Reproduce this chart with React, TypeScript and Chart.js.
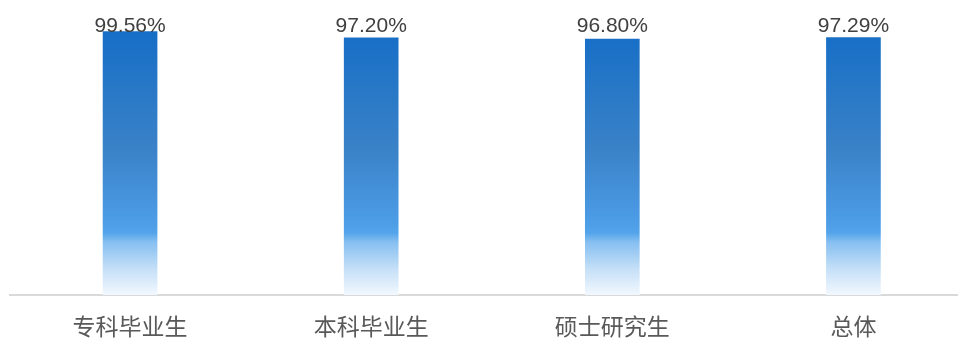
import React, { useEffect, useRef } from "react";
import { Chart, registerables } from "chart.js";

Chart.register(...registerables);

const categories = ["专科毕业生", "本科毕业生", "硕士研究生", "总体"];
const values = [99.56, 97.2, 96.8, 97.29];
const valueLabels = ["99.56%", "97.20%", "96.80%", "97.29%"];

const labelPlugin = {
  id: "valueLabels",
  afterDatasetsDraw(chart: any) {
    const { ctx } = chart;
    const meta = chart.getDatasetMeta(0);
    const yScale = chart.scales.y;
    const yTop = yScale.getPixelForValue(100);
    ctx.save();
    ctx.font = '21px "Liberation Sans", Arial, sans-serif';
    ctx.fillStyle = "#404040";
    ctx.textAlign = "center";
    ctx.textBaseline = "alphabetic";
    meta.data.forEach((bar: any, i: number) => {
      ctx.fillText(valueLabels[i], bar.x, yTop + 1);
    });
    ctx.restore();
  },
};

export default function App() {
  const ref = useRef<HTMLCanvasElement | null>(null);
  useEffect(() => {
    if (!ref.current) return;
    const chart = new Chart(ref.current, {
      type: "bar",
      data: {
        labels: categories,
        datasets: [
          {
            data: values,
            barThickness: 54,
            backgroundColor: (c: any) => {
              const area = c.chart.chartArea;
              if (!area) return "#3a82c8";
              const g = c.chart.ctx.createLinearGradient(0, area.top, 0, area.bottom);
              g.addColorStop(0, "#166ec6");
              g.addColorStop(0.45, "#3a82c8");
              g.addColorStop(0.72, "#4c9ce6");
              g.addColorStop(0.765, "#53a4ea");
              g.addColorStop(0.8, "#86bff1");
              g.addColorStop(0.9, "#c4dff7");
              g.addColorStop(1, "#f2f8fe");
              return g;
            },
            borderWidth: 0,
          },
        ],
      },
      options: {
        animation: false,
        responsive: false,
        maintainAspectRatio: false,
        layout: { padding: { top: 30.5, left: 9.5, right: 0, bottom: 0 } },
        plugins: { legend: { display: false }, tooltip: { enabled: false } },
        scales: {
          x: {
            grid: { display: false, drawTicks: false },
            border: { display: true, color: "#d9d9d9", width: 2 },
            ticks: {
              color: "#595959",
              padding: 20,
              font: { size: 23, family: '"Noto Sans CJK SC", sans-serif', lineHeight: 1 },
            },
          },
          y: { display: false, min: 0, max: 100 },
        },
      },
      plugins: [labelPlugin],
    });
    return () => chart.destroy();
  }, []);
  return (
    <div style={{ position: "absolute", left: 0, top: 0, width: 958, height: 338, overflow: "hidden", background: "#fff" }}>
      <canvas ref={ref} width={974} height={358} style={{ display: "block", width: 974, height: 358 }} />
    </div>
  );
}
